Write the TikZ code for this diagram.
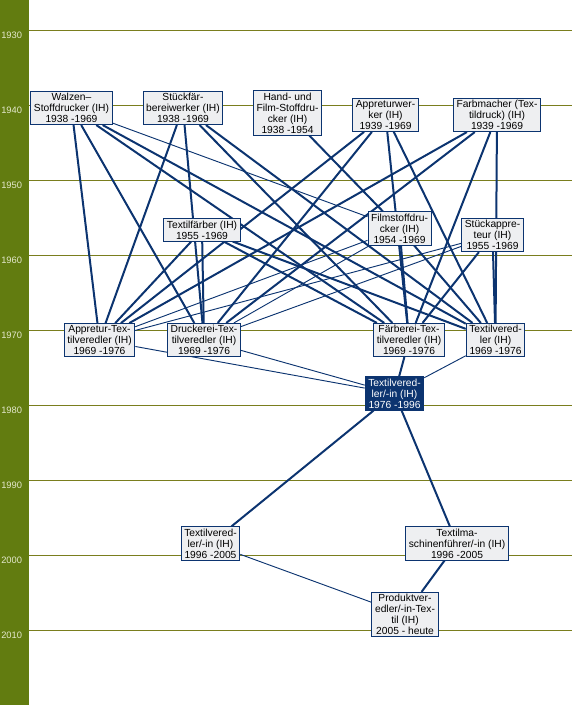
\documentclass[tikz,border=0pt]{standalone}
\usepackage{fontspec}
\setmainfont{Liberation Sans}
\usepackage{tikz}
\usetikzlibrary{backgrounds}
\definecolor{jobblue}{RGB}{12, 52, 112}
\definecolor{jobgray}{RGB}{238, 239, 241}
\definecolor{sideolive}{RGB}{98, 124, 16}
\definecolor{lineolive}{RGB}{122, 126, 30}
\definecolor{yeartext}{RGB}{228, 232, 205}
\tikzstyle{job} = [
    draw=jobblue, 
    fill=jobgray, 
    line width=0.75pt, 
    align=center, 
    font=\fontsize{7.7}{8.3}\selectfont, 
    inner xsep=2.3pt, 
    inner ysep=1.3pt
]
\tikzstyle{jobnow} = [job, fill=jobblue, text=white]
\tikzstyle{link} = [draw=jobblue, line width=1.5pt]
\tikzstyle{thinlink} = [draw=jobblue, line width=0.7pt]
\tikzstyle{yearline} = [draw=lineolive, line width=0.75pt]
\tikzstyle{yearlabel} = [anchor=west, inner sep=0pt, text=yeartext, font=\fontsize{7}{8}\selectfont]

\begin{document}
\begin{tikzpicture}[x=0.75pt, y=-0.75pt]
        \useasboundingbox (0, 0) rectangle (572, 705);
        
        % Year bar
        \fill[sideolive] (0, 0) rectangle (29, 705);
        \foreach \yr [count=\i from 0] in {1930,1940,...,2010} {
            \node[yearlabel] (y\yr) at (1, 35+75*\i) {\yr};
        }
        
        % Jobs 1938
        \node[job] (walzen) at (71.5, 108) {Walzen–\\Stoffdrucker (IH)\\1938 -1969};
        \node[job] (stueckfaer) at (183, 108) {Stückfär-\\bereiwerker (IH)\\1938 -1969};
        \node[job] (handfilm) at (287.5, 113) {Hand- und\\Film-Stoffdru-\\cker (IH)\\1938 -1954};
        \node[job] (appwerk) at (385.5, 115) {Appreturwer-\\ker (IH)\\1939 -1969};
        \node[job] (farbmacher) at (497, 115) {Farbmacher (Tex-\\tildruck) (IH)\\1939 -1969};
        
        % Jobs 1954/55
        \node[job] (textfaerber) at (202, 230) {Textilfärber (IH)\\1955 -1969};
        \node[job] (filmstoff) at (399.5, 228.5) {Filmstoffdru-\\cker (IH)\\1954 -1969};
        \node[job] (stueckappr) at (492.5, 235) {Stückappre-\\teur (IH)\\1955 -1969};
        
        % Jobs 1969
        \node[job] (apptex) at (99.5, 340) {Appretur-Tex-\\tilveredler (IH)\\1969 -1976};
        \node[job] (drucktex) at (204, 340) {Druckerei-Tex-\\tilveredler (IH)\\1969 -1976};
        \node[job] (faerbtex) at (409, 340) {Färberei-Tex-\\tilveredler (IH)\\1969 -1976};
        \node[job] (textver) at (495.5, 340) {Textilvered-\\ler (IH)\\1969 -1976};
        
        % Job 1976
        \node[jobnow] (textverin) at (394.5, 393.5) {Textilvered-\\ler/-in (IH)\\1976 -1996};
        
        % Jobs 1996 and 2005
        \node[job] (textverneu) at (210.5, 543.5) {Textilvered-\\ler/-in (IH)\\1996 -2005};
        \node[job] (maschfuehrer) at (457, 543.5) {Textilma-\\schinenführer/-in (IH)\\1996 -2005};
        \node[job] (produktver) at (405, 614.5) {Produktver-\\edler/-in-Tex-\\til (IH)\\2005 - heute};
        
        % Year lines
        \begin{scope}[on background layer]
            \foreach \i in {0,...,8} {
                \draw[yearline] (29, 30.5+75*\i) -- (572, 30.5+75*\i);
            }
        \end{scope}
        
        % Links
        \begin{scope}[on background layer]
            \foreach \old in {walzen, stueckfaer, appwerk, farbmacher, textfaerber} {
                \foreach \new in {apptex, drucktex, faerbtex, textver} {
                    \draw[link] (\old) -- (\new);
                }
            }
            \foreach \old in {filmstoff, stueckappr} {
                \draw[thinlink] (\old) -- (apptex);
                \draw[thinlink] (\old) -- (drucktex);
                \draw[link] (\old) -- (faerbtex);
                \draw[link] (\old) -- (textver);
            }
            \draw[link] (handfilm) -- (filmstoff);
            \draw[thinlink] (walzen) -- (filmstoff);
            \draw[thinlink] (apptex) -- (textverin);
            \draw[thinlink] (drucktex) -- (textverin);
            \draw[link] (faerbtex) -- (textverin);
            \draw[thinlink] (textver) -- (textverin);
            \draw[link] (textverin) -- (textverneu);
            \draw[link] (textverin) -- (maschfuehrer);
            \draw[thinlink] (textverneu) -- (produktver);
            \draw[link] (maschfuehrer) -- (produktver);
        \end{scope}
    \end{tikzpicture}
\end{document}
